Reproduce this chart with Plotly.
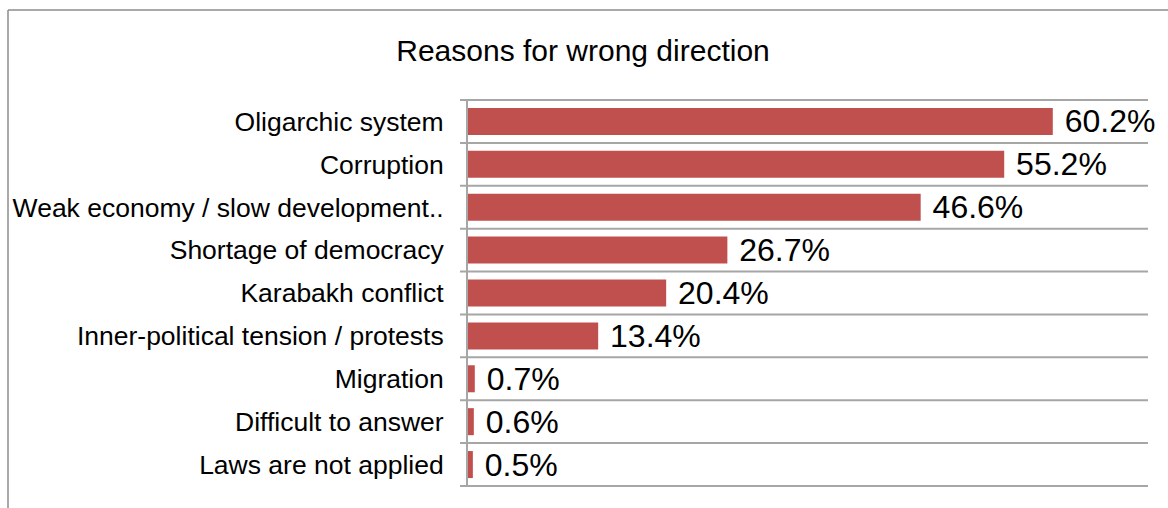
import plotly.graph_objects as go

# Survey results: reasons given for the country going in the wrong direction
categories = [
    "Oligarchic system",
    "Corruption",
    "Weak economy / slow development..",
    "Shortage of democracy",
    "Karabakh conflict",
    "Inner-political tension / protests",
    "Migration",
    "Difficult to answer",
    "Laws are not applied",
]
shares = [60.2, 55.2, 46.6, 26.7, 20.4, 13.4, 0.7, 0.6, 0.5]

W, H = 1168, 508
ML, MR, MT, MB = 468, 20, 100, 22
FONT = "Liberation Sans, Arial, sans-serif"
GRID = "#a6a6a6"
FRAME = "#8c8c8c"

n = len(categories)
positions = list(range(n))
y_range = [n - 0.5, -0.5]

fig = go.Figure(
    go.Bar(
        x=shares,
        y=positions,
        orientation="h",
        width=0.63,
        marker=dict(color="#C0504D", line=dict(width=0)),
        text=[f"\u00a0{v:.1f}%" for v in shares],
        textposition="outside",
        textfont=dict(family=FONT, size=32, color="#000000"),
        cliponaxis=False,
        constraintext="none",
        hoverinfo="skip",
    )
)

plot_w = W - ML - MR
plot_h = H - MT - MB

# Separators between categories (paper coordinates so the short stub
# left of the axis is not clipped by the plot area)
stub = -8 / plot_w
for i in range(n + 1):
    frac = (y_range[0] - (i - 0.5)) / (y_range[0] - y_range[1])
    fig.add_shape(type="line", xref="paper", yref="paper",
                  x0=stub, x1=1, y0=frac, y1=frac,
                  line=dict(color=GRID, width=2), layer="above")

# Outer frame of the chart area (top and left edges)
x_left = (8 - ML) / plot_w
y_top = (H - MB - 10) / plot_h
y_bottom = (H - MB - H) / plot_h
fig.add_shape(type="line", xref="paper", yref="paper",
              x0=x_left, x1=(W - ML) / plot_w, y0=y_top, y1=y_top,
              line=dict(color=FRAME, width=1.5))
fig.add_shape(type="line", xref="paper", yref="paper",
              x0=x_left, x1=x_left, y0=y_top, y1=y_bottom,
              line=dict(color=FRAME, width=1.5))

fig.update_layout(
    width=W,
    height=H,
    margin=dict(l=ML, r=MR, t=MT, b=MB, pad=0),
    paper_bgcolor="white",
    plot_bgcolor="white",
    showlegend=False,
    font=dict(family=FONT, color="#000000"),
    title=dict(
        text="Reasons for wrong direction",
        x=583 / W,
        xref="container",
        xanchor="center",
        y=1 - 50 / H,
        yref="container",
        yanchor="middle",
        font=dict(family=FONT, size=30, color="#000000"),
    ),
    xaxis=dict(
        range=[0, 70],
        showgrid=False,
        zeroline=False,
        showticklabels=False,
        showline=False,
        ticks="",
    ),
    yaxis=dict(
        range=y_range,
        tickmode="array",
        tickvals=positions,
        ticktext=categories,
        ticks="",
        showgrid=False,
        zeroline=False,
        showline=True,
        linecolor=GRID,
        linewidth=2,
        tickfont=dict(family=FONT, size=26.5, color="#000000"),
        ticklabelstandoff=17,
    ),
)

fig.write_html("out.html")
